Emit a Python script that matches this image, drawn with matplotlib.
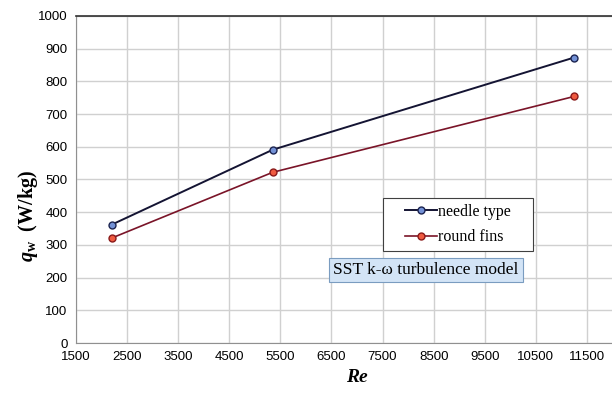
import matplotlib.pyplot as plt
from matplotlib.patches import Rectangle

re_vals = [2200, 5350, 11250]
needle = [362, 591, 873]
round_fins = [321, 522, 754]

x_ticks = list(range(1500, 12501, 1000))
y_ticks = list(range(0, 1001, 100))

plt.rcParams['mathtext.fontset'] = 'custom'
plt.rcParams['mathtext.it'] = 'Liberation Serif:bold:italic'
plt.rcParams['mathtext.rm'] = 'Liberation Serif:bold'

fig = plt.figure(figsize=(6.12, 3.96), dpi=100)
ax = fig.add_axes([76 / 612, 53 / 396, 562 / 612, 327 / 396])

ax.plot(re_vals, needle, color='#141433', lw=1.4, marker='o', ms=5,
        mfc='#7391d6', mec='#1c2450', mew=1.0, label='needle type', zorder=3)
ax.plot(re_vals, round_fins, color='#7a1428', lw=1.2, marker='o', ms=5,
        mfc='#ef5a40', mec='#8a1a1a', mew=1.0, label='round fins', zorder=3)

ax.set_xlim(1500, 12500)
ax.set_ylim(0, 1000)
ax.set_xticks(x_ticks[:-1])
ax.set_yticks(y_ticks)
ax.grid(True, color='#d0d0d0', lw=1.0)
ax.set_axisbelow(True)
ax.tick_params(length=0, labelsize=9.5, pad=6)
for lab in ax.get_xticklabels() + ax.get_yticklabels():
    lab.set_fontfamily('Liberation Sans')

for s in ['left', 'bottom']:
    ax.spines[s].set_color('#909090')
ax.spines['right'].set_visible(False)
ax.spines['top'].set_color('#303030')
ax.spines['top'].set_linewidth(1.2)

ax.set_xlabel('Re', fontfamily='Liberation Serif', fontsize=14,
              fontweight='bold', style='italic', labelpad=4)
fig.text(0.045, 0.455, r'$q_{\mathrm{w}}$  (W/kg)', fontsize=14.5, rotation=90,
         ha='center', va='center', family='Liberation Serif', fontweight='bold')

# legend frame drawn by hand so the padding matches
x0, x1 = (383 - 76) / 562, (533 - 76) / 562
y0, y1 = (343 - 251) / 327, (343 - 198) / 327
ax.add_patch(Rectangle((x0, y0), x1 - x0, y1 - y0, transform=ax.transAxes,
                       fc='white', ec='#404040', lw=0.8, zorder=4))
leg = ax.legend(loc='center right', bbox_to_anchor=(x1 - 0.04, (y0 + y1) / 2),
                frameon=False, prop={'family': 'Liberation Serif', 'size': 11.5},
                handlelength=2.0, handletextpad=0.05, borderpad=0,
                labelspacing=0.6, borderaxespad=0)
leg.set_zorder(5)

ax.text((333 - 76) / 562, (343 - 270) / 327, 'SST k-ω turbulence model',
        transform=ax.transAxes, ha='left', va='center',
        fontfamily='Liberation Serif', fontsize=12.5, zorder=5,
        bbox=dict(boxstyle='square,pad=0.25', fc='#d3e4f6', ec='#7a9cc0', lw=0.8))

fig.savefig('out.png', dpi=100)
